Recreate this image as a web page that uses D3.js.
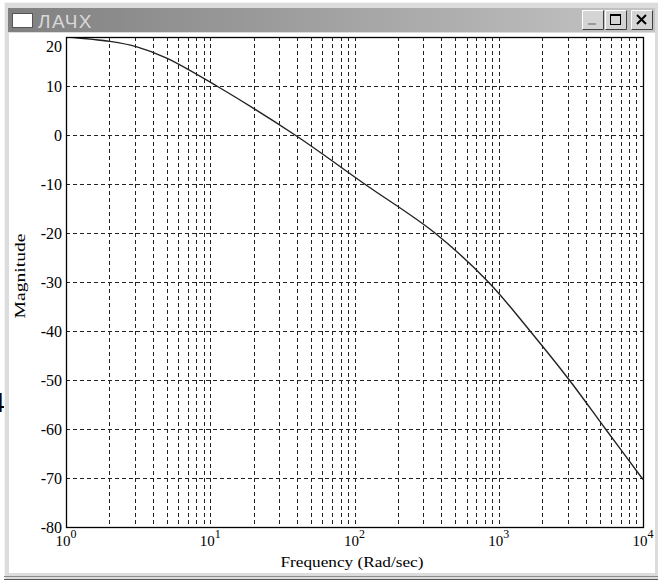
<!DOCTYPE html>
<html>
<head>
<meta charset="utf-8">
<script src="https://cdn.jsdelivr.net/npm/d3@7"></script>
<style>
  body { margin: 0; background: #ffffff; }
  svg { display: block; }
</style>
</head>
<body>
<svg id="chart"></svg>
<script>
// data (mostly where the curve crosses the grid)
const freq = [1, 2.02, 3.1, 4.99, 11.1, 38.7, 117.5, 361, 847, 1648, 3083, 5495, 10000];
const magDb = [20.0, 19.1, 18.0, 15.7, 10.0, 0.0, -10.0, -20.0, -30.0, -40.0, -50.0, -60.0, -70.3];
const yTicks = [-80, -70, -60, -50, -40, -30, -20, -10, 0, 10, 20];
const xDecades = [0, 1, 2, 3, 4];
const windowTitle = "ЛАЧХ";
const xTitle = "Frequency (Rad/sec)";
const yTitle = "Magnitude";

const W = 658, H = 582;
const pLeft = 66, pRight = 643, pTop = 37, pBottom = 527;

let svg = d3.select('#chart').attr('width', W).attr('height', H);

// stray glyph from the page behind the window
svg.append('text').attr('x', 5).attr('y', 412)
   .attr('text-anchor', 'end')
   .style('font-family', 'Liberation Sans, sans-serif').style('font-size', '28px')
   .attr('fill', '#000').text('4');

// window frame
svg.append('rect').attr('x', 4).attr('y', 2).attr('width', W).attr('height', 578)
   .attr('fill', '#dcdcdc');
svg.append('line').attr('x1', 4.5).attr('x2', 4.5).attr('y1', 2).attr('y2', 580).attr('stroke', '#f4f4f4');
svg.append('line').attr('x1', 4).attr('x2', W).attr('y1', 2.5).attr('y2', 2.5).attr('stroke', '#f4f4f4');
svg.append('line').attr('x1', 4).attr('x2', W).attr('y1', 576.5).attr('y2', 576.5).attr('stroke', '#8a8a8a');
svg.append('line').attr('x1', 4).attr('x2', W).attr('y1', 579.5).attr('y2', 579.5).attr('stroke', '#555');

// title bar
let grad = svg.append('defs').append('linearGradient').attr('id', 'tb')
   .attr('x1', '0%').attr('x2', '100%');
grad.append('stop').attr('offset', '0%').attr('stop-color', '#808080');
grad.append('stop').attr('offset', '100%').attr('stop-color', '#c4c4c4');
svg.append('rect').attr('x', 8).attr('y', 8).attr('width', W - 11).attr('height', 24)
   .attr('fill', 'url(#tb)');
svg.append('rect').attr('x', 12.5).attr('y', 13.5).attr('width', 20).attr('height', 14)
   .attr('fill', '#fff').attr('stroke', '#555');
svg.append('text').attr('x', 38).attr('y', 28)
   .style('font-family', 'Liberation Sans, sans-serif').style('font-size', '19px')
   .style('letter-spacing', '1.5px')
   .attr('fill', '#d8d8d8').text(windowTitle);

// caption buttons
const btns = [{x: 582, k: 'min'}, {x: 605, k: 'max'}, {x: 631, k: 'close'}];
btns.forEach(function(b) {
  let g = svg.append('g').attr('transform', 'translate(' + b.x + ',10)');
  g.append('rect').attr('width', 22).attr('height', 20).attr('fill', '#d4d4d4');
  g.append('path').attr('d', 'M0.5,19.5V0.5H21.5').attr('fill', 'none').attr('stroke', '#fff');
  g.append('path').attr('d', 'M0.5,19.5H21.5V0.5').attr('fill', 'none').attr('stroke', '#404040');
  if (b.k == 'min') {
    g.append('rect').attr('x', 6).attr('y', 13).attr('width', 8).attr('height', 2).attr('fill', '#9a9a9a');
  } else if (b.k == 'max') {
    g.append('rect').attr('x', 5.5).attr('y', 4.5).attr('width', 10).attr('height', 10)
     .attr('fill', 'none').attr('stroke', '#000');
    g.append('rect').attr('x', 5).attr('y', 4).attr('width', 11).attr('height', 2).attr('fill', '#000');
  } else {
    g.append('path').attr('d', 'M6,5L15,14M15,5L6,14').attr('stroke', '#000').attr('stroke-width', 2);
  }
});

// client area
svg.append('rect').attr('x', 9).attr('y', 33).attr('width', 646).attr('height', 540)
   .attr('fill', '#fff');

let x = d3.scaleLog().domain([1, 1e4]).range([pLeft, pRight]);
let y = d3.scaleLinear().domain([-80, 20]).range([pBottom, pTop]);

// grid
let minors = [];
for (let k = 0; k < 4; k++) {
  for (let m = 1; m <= 9; m++) {
    if (k == 0 && m == 1) continue;
    minors.push(m * Math.pow(10, k));
  }
}
svg.append('g').selectAll('line').data(minors).enter().append('line')
   .attr('x1', d => Math.round(x(d)) + 0.5).attr('x2', d => Math.round(x(d)) + 0.5)
   .attr('y1', pTop).attr('y2', pBottom)
   .attr('stroke', '#222').attr('stroke-dasharray', '4,3');
svg.append('g').selectAll('line').data(yTicks.slice(1, -1)).enter().append('line')
   .attr('x1', pLeft).attr('x2', pRight)
   .attr('y1', d => Math.round(y(d)) + 0.5).attr('y2', d => Math.round(y(d)) + 0.5)
   .attr('stroke', '#222').attr('stroke-dasharray', '4,3');

// curve
svg.append('clipPath').attr('id', 'clip').append('rect')
   .attr('x', pLeft).attr('y', pTop).attr('width', pRight - pLeft).attr('height', pBottom - pTop);
let pts = freq.map((f, i) => [x(f), y(magDb[i])]);
let line = d3.line().curve(d3.curveCatmullRom.alpha(0.5));
svg.append('path').attr('d', line(pts)).attr('clip-path', 'url(#clip)')
   .attr('fill', 'none').attr('stroke', '#222').attr('stroke-width', 1.4);

// frame box
svg.append('rect').attr('x', pLeft + 0.5).attr('y', pTop + 0.5)
   .attr('width', pRight - pLeft).attr('height', pBottom - pTop)
   .attr('fill', 'none').attr('stroke', '#000').attr('stroke-width', 1.3);

// y tick labels
svg.append('g').selectAll('text').data(yTicks).enter().append('text')
   .attr('x', 62).attr('y', d => Math.max(y(d), pTop + 9))
   .attr('dy', '0.35em').attr('text-anchor', 'end')
   .style('font-family', 'Liberation Serif, serif').style('font-size', '16px')
   .attr('fill', '#000').text(d => d);

// x tick labels 10^k
let xl = svg.append('g').selectAll('text').data(xDecades).enter().append('text')
   .attr('x', d => x(Math.pow(10, d))).attr('y', 546)
   .attr('text-anchor', 'middle')
   .style('font-family', 'Liberation Serif, serif').style('font-size', '15px')
   .attr('fill', '#000');
xl.append('tspan').text('10');
xl.append('tspan').attr('dy', -8).style('font-size', '12px').text(d => d);

// axis titles
svg.append('text').attr('x', 352).attr('y', 567)
   .attr('text-anchor', 'middle').attr('textLength', 143).attr('lengthAdjust', 'spacingAndGlyphs')
   .style('font-family', 'Liberation Serif, serif').style('font-size', '15px')
   .attr('fill', '#000').text(xTitle);
svg.append('text').attr('transform', 'translate(25,276) rotate(-90)')
   .attr('text-anchor', 'middle').attr('textLength', 85).attr('lengthAdjust', 'spacingAndGlyphs')
   .style('font-family', 'Liberation Serif, serif').style('font-size', '15px')
   .attr('fill', '#000').text(yTitle);
</script>
</body>
</html>
